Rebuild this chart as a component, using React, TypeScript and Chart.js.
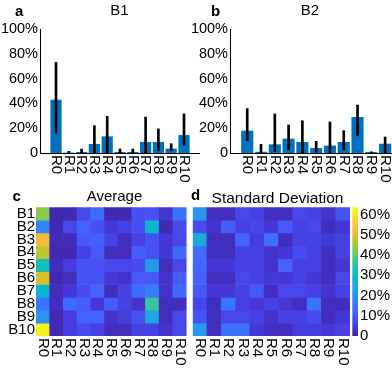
import React, { useEffect, useRef } from 'react';
import { Chart, registerables } from 'chart.js';

Chart.register(...registerables);

const FAMILY = '"Liberation Sans", Arial, Helvetica, sans-serif';

// ---------- data ----------
const regions = ['R0', 'R1', 'R2', 'R3', 'R4', 'R5', 'R6', 'R7', 'R8', 'R9', 'R10'];
const boards = ['B1', 'B2', 'B3', 'B4', 'B5', 'B6', 'B7', 'B8', 'B9', 'B10'];
const percentTicks = [0, 20, 40, 60, 80, 100];
const colorbarTicks = [0, 10, 20, 30, 40, 50, 60];
const CLIM_MAX = 63.5;

// panel a (B1): mean and error-bar ends, in %
const b1Mean = [43, 0.3, 0.8, 7.3, 13.4, 0.8, 0.8, 8.9, 8.9, 3.5, 14.5];
const b1Low = [16, 0, 0, 0, 0, 0, 0, 0, 2, 2, 6.2];
const b1High = [73, 1.3, 3.2, 22, 29.6, 3.2, 3.2, 29, 19.4, 7.5, 31.5];
// panel b (B2)
const b2Mean = [18, 1, 7, 11.6, 8.9, 4, 6, 8.9, 29, 0.8, 7.5];
const b2Low = [10, 0, 1.3, 2.7, 0, 0.8, 0, 2.7, 14.2, 0, 0];
const b2High = [35.8, 7, 31.5, 22.6, 26, 9.4, 25, 18, 38.7, 1, 12.9];

// panel c: average per board (rows) and region (columns), in %
const avgB3 = [52, 1.5, 1.5, 10, 11, 6, 2, 6, 9, 4, 7];
const avgB4 = [47, 1, 1, 6, 10, 2, 2, 11, 9, 4, 13];
const avgB5 = [32, 2, 5, 9, 9, 7, 7, 8, 22, 2, 7];
const avgB6 = [49, 1, 2, 9, 9, 4, 3, 10, 10, 3, 11];
const avgB7 = [28, 2, 4, 8, 12, 2, 6, 13, 17, 3, 13];
const avgB8 = [15, 2, 13, 11, 4, 11, 6, 3, 36, 2, 2];
const avgB9 = [20, 1, 5, 12, 12, 3, 5, 9, 25, 2, 7];
const avgB10 = [62, 1, 5, 8, 6, 2, 2, 6, 6, 3, 7];
const averageRows = [b1Mean, b2Mean, avgB3, avgB4, avgB5, avgB6, avgB7, avgB8, avgB9, avgB10];

// panel d: standard deviation, in %
const sdB1 = [21, 2, 2, 7, 6, 2, 2, 7, 6, 3, 9];
const sdB2 = [8, 3, 11, 6, 7, 4, 10, 6, 7, 2, 4];
const sdB3 = [25, 2, 2, 12, 5, 14, 2, 6, 6, 4, 6];
const sdB4 = [13, 2, 2, 6, 6, 3, 4, 8, 6, 2, 6];
const sdB5 = [13, 4, 4, 6, 6, 3, 12, 6, 6, 2, 4];
const sdB6 = [12, 2, 2, 7, 6, 4, 4, 6, 4, 2, 7];
const sdB7 = [10, 4, 4, 6, 10, 2, 7, 7, 6, 3, 6];
const sdB8 = [7, 2, 15, 6, 4, 6, 4, 2, 15, 2, 2];
const sdB9 = [9, 2, 7, 7, 6, 3, 6, 6, 8, 2, 4];
const sdB10 = [22, 2, 14, 14, 4, 2, 2, 5, 5, 4, 6];
const stdRows = [sdB1, sdB2, sdB3, sdB4, sdB5, sdB6, sdB7, sdB8, sdB9, sdB10];

// ---------- colormap (parula) ----------
const PARULA: [number, number, number][] = [
  [0.2422, 0.1504, 0.6603], [0.2706, 0.2147, 0.8364], [0.2813, 0.3006, 0.9414],
  [0.2699, 0.3892, 0.9906], [0.1963, 0.4847, 0.9892], [0.1687, 0.5703, 0.9359],
  [0.1248, 0.6459, 0.8883], [0.0297, 0.7082, 0.8163], [0.0964, 0.75, 0.712],
  [0.2161, 0.7843, 0.5923], [0.3909, 0.8029, 0.4354], [0.6174, 0.7876, 0.2612],
  [0.8203, 0.7498, 0.1535], [0.9728, 0.7298, 0.2394], [0.9892, 0.8136, 0.1885],
  [0.9597, 0.9135, 0.1423], [0.9769, 0.9839, 0.0805],
];
const PARULA_POS = [0, 4, 8, 12, 16, 20, 24, 28, 32, 36, 40, 44, 48, 52, 56, 60, 63].map((i) => i / 63);

function parula(t: number): string {
  const u = Math.max(0, Math.min(1, t));
  let k = 0;
  while (k < PARULA_POS.length - 2 && u > PARULA_POS[k + 1]) k++;
  const f = (u - PARULA_POS[k]) / (PARULA_POS[k + 1] - PARULA_POS[k]);
  const a = PARULA[k];
  const b = PARULA[k + 1];
  const c = [0, 1, 2].map((j) => Math.round(255 * (a[j] + (b[j] - a[j]) * f)));
  return `rgb(${c[0]},${c[1]},${c[2]})`;
}

// ---------- helpers ----------
function rotatedTickLabels(labels: string[], size: number) {
  return {
    id: 'rotatedTickLabels',
    afterDraw(chart: any) {
      const xs = chart.scales.x;
      const ctx = chart.ctx;
      ctx.save();
      ctx.fillStyle = '#000';
      ctx.font = `${size}px ${FAMILY}`;
      ctx.textAlign = 'left';
      ctx.textBaseline = 'middle';
      labels.forEach((lab, i) => {
        const px = xs.getPixelForValue(i);
        ctx.save();
        ctx.translate(px, xs.top + 2);
        ctx.rotate(Math.PI / 2);
        ctx.fillText(lab, 0, 0);
        ctx.restore();
      });
      ctx.restore();
    },
  };
}

const integerTicks = (s: any) => {
  s.ticks = regions.map((_, i) => ({ value: i }));
};

function barConfig(mean: number[], low: number[], high: number[], xMax: number): any {
  return {
    type: 'bar',
    data: {
      datasets: [
        {
          data: low.map((l, i) => ({ x: i, y: [l, high[i]] })),
          backgroundColor: '#000000',
          barThickness: 2,
          grouped: false,
          order: 0,
        },
        {
          data: mean.map((m, i) => ({ x: i, y: m })),
          backgroundColor: '#0072BD',
          barPercentage: 0.88,
          categoryPercentage: 1,
          grouped: false,
          order: 1,
        },
      ],
    },
    options: {
      responsive: false,
      animation: false,
      layout: { padding: { top: 29, left: 0, right: 0, bottom: 0 } },
      plugins: { legend: { display: false }, tooltip: { enabled: false }, title: { display: false } },
      scales: {
        x: {
          type: 'linear',
          min: -1.25,
          max: xMax,
          offset: false,
          afterBuildTicks: integerTicks,
          grid: { display: false, drawTicks: false },
          border: { display: true, color: '#000', width: 1 },
          ticks: { display: false },
          afterFit: (s: any) => { s.height = 32; },
        },
        y: {
          type: 'linear',
          min: 0,
          max: 100,
          afterBuildTicks: (s: any) => { s.ticks = percentTicks.map((v) => ({ value: v })); },
          grid: { display: false, drawTicks: false },
          border: { display: true, color: '#000', width: 1 },
          ticks: {
            padding: 2,
            color: '#000',
            autoSkip: false,
            font: { family: FAMILY, size: 14.5 },
            callback: (v: number) => (v === 0 ? '0' : `${v}%`),
          },
          afterFit: (s: any) => { s.width = 40; },
        },
      },
    },
    plugins: [rotatedTickLabels(regions, 15)],
  };
}

function heatConfig(rows: number[][], showY: boolean, padLeft: number, padRight: number): any {
  return {
    type: 'bar',
    data: {
      datasets: rows.map((row, r) => ({
        data: row.map((_, c) => ({ x: c, y: [r, r + 1] })),
        backgroundColor: row.map((v) => parula(v / CLIM_MAX)),
        barPercentage: 1,
        categoryPercentage: 1,
        grouped: false,
        borderWidth: 0,
      })),
    },
    options: {
      responsive: false,
      animation: false,
      layout: { padding: { top: 22.3, left: padLeft, right: padRight, bottom: 0 } },
      plugins: { legend: { display: false }, tooltip: { enabled: false } },
      scales: {
        x: {
          type: 'linear',
          min: -0.5,
          max: 10.5,
          offset: false,
          afterBuildTicks: integerTicks,
          grid: { display: false, drawTicks: false },
          border: { display: false },
          ticks: { display: false },
          afterFit: (s: any) => { s.height = 32; },
        },
        y: {
          type: 'linear',
          min: 0,
          max: 10,
          reverse: true,
          display: showY,
          afterBuildTicks: (s: any) => { s.ticks = boards.map((_, i) => ({ value: i + 0.5 })); },
          grid: { display: false, drawTicks: false },
          border: { display: false },
          ticks: {
            padding: 1,
            color: '#000',
            autoSkip: false,
            font: { family: FAMILY, size: 15 },
            callback: (_v: number, i: number) => boards[i],
          },
          afterFit: (s: any) => { s.width = showY ? 36 : 0; },
        },
      },
    },
    plugins: [rotatedTickLabels(regions, 15)],
  };
}

function colorbarConfig(): any {
  return {
    type: 'bar',
    data: {
      labels: [''],
      datasets: [
        {
          data: [[0, CLIM_MAX]],
          backgroundColor: (ctx: any) => {
            const chart = ctx.chart;
            const ys = chart.scales.y;
            if (!chart.chartArea || !ys) return '#3e26a8';
            const g = chart.ctx.createLinearGradient(0, ys.getPixelForValue(0), 0, ys.getPixelForValue(CLIM_MAX));
            PARULA.forEach((c, i) => {
              g.addColorStop(PARULA_POS[i], `rgb(${Math.round(c[0] * 255)},${Math.round(c[1] * 255)},${Math.round(c[2] * 255)})`);
            });
            return g;
          },
          barPercentage: 1,
          categoryPercentage: 1,
          borderWidth: 0,
        },
      ],
    },
    options: {
      responsive: false,
      animation: false,
      layout: { padding: { top: 22.3, left: 0.3, right: 0, bottom: 32 } },
      plugins: { legend: { display: false }, tooltip: { enabled: false } },
      scales: {
        x: { display: false },
        y: {
          position: 'right',
          min: 0,
          max: CLIM_MAX,
          afterBuildTicks: (s: any) => { s.ticks = colorbarTicks.map((v) => ({ value: v })); },
          grid: { display: false, drawTicks: false },
          border: { display: false },
          ticks: {
            padding: 2,
            color: '#000',
            autoSkip: false,
            font: { family: FAMILY, size: 15 },
            callback: (v: number) => (v === 0 ? '0' : `${v}%`),
          },
          afterFit: (s: any) => { s.width = 34; },
        },
      },
    },
  };
}

function ChartBox({ make, left, top, width, height }: any) {
  const ref = useRef<HTMLCanvasElement | null>(null);
  useEffect(() => {
    const chart = new Chart(ref.current as HTMLCanvasElement, make());
    return () => chart.destroy();
  }, []);
  return (
    <canvas
      ref={ref}
      width={width}
      height={height}
      style={{ position: 'absolute', left, top, width, height }}
    />
  );
}

function Label({ text, x, baseline, size = 15, bold = false, center = false }: any) {
  const top = baseline - 0.8465 * size;
  const style: any = {
    position: 'absolute',
    top,
    fontFamily: FAMILY,
    fontSize: size,
    lineHeight: 1,
    fontWeight: bold ? 'bold' : 'normal',
    color: '#000',
    whiteSpace: 'nowrap',
  };
  if (center) {
    style.left = x - 100;
    style.width = 200;
    style.textAlign = 'center';
  } else {
    style.left = x;
  }
  return <div style={style}>{text}</div>;
}

export default function App() {
  return (
    <div
      style={{
        position: 'fixed',
        left: 0,
        top: 0,
        width: 392,
        height: 368,
        background: '#fff',
        overflow: 'hidden',
      }}
    >
      <ChartBox make={() => barConfig(b1Mean, b1Low, b1High, 11.25)} left={0} top={0} width={200} height={185} />
      <ChartBox make={() => barConfig(b2Mean, b2Low, b2High, 10.5)} left={190} top={0} width={202} height={185} />
      <ChartBox make={() => heatConfig(averageRows, true, 0, 5.4)} left={0} top={185} width={192} height={183} />
      <ChartBox make={() => heatConfig(stdRows, false, 2.7, 42)} left={190} top={185} width={202} height={183} />
      <ChartBox make={colorbarConfig} left={352} top={185} width={40} height={183} />

      <Label text="a" x={15} baseline={16} bold />
      <Label text="B1" x={119.5} baseline={15} center />
      <Label text="b" x={211} baseline={16} bold />
      <Label text="B2" x={310} baseline={15} center />
      <Label text="c" x={12.5} baseline={201} bold />
      <Label text="Average" x={114.5} baseline={201} center />
      <Label text="d" x={191} baseline={200} bold />
      <Label text="Standard Deviation" x={277.5} baseline={203.5} size={15.5} center />
    </div>
  );
}
